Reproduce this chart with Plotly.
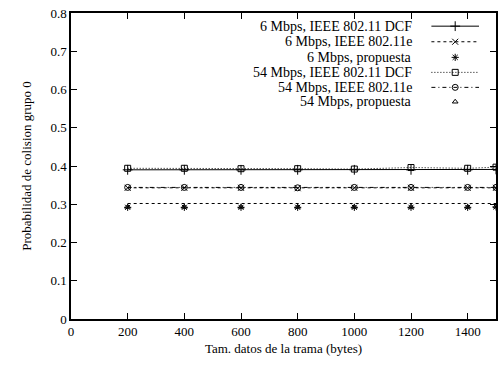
import plotly.graph_objects as go

x_bytes = [200, 400, 600, 800, 1000, 1200, 1400, 1500]
dcf_6 = [0.390, 0.390, 0.390, 0.390, 0.390, 0.390, 0.390, 0.391]
e_6 = [0.343, 0.343, 0.343, 0.342, 0.343, 0.343, 0.343, 0.343]
prop_6 = [0.292, 0.292, 0.292, 0.292, 0.292, 0.292, 0.292, 0.293]
dcf_54 = [0.394, 0.394, 0.393, 0.393, 0.392, 0.396, 0.394, 0.397]
e_54 = [0.344, 0.344, 0.344, 0.343, 0.344, 0.344, 0.344, 0.344]
prop_54 = [0.293, 0.293, 0.293, 0.293, 0.293, 0.293, 0.293, 0.294]
prop_line = [0.302, 0.302, 0.302, 0.302, 0.302, 0.302, 0.302, 0.302]

names = ["6 Mbps, IEEE 802.11 DCF", "6 Mbps, IEEE 802.11e", "6 Mbps, propuesta",
         "54 Mbps, IEEE 802.11 DCF", "54 Mbps, IEEE 802.11e", "54 Mbps, propuesta"]
x_ticks = [0, 200, 400, 600, 800, 1000, 1200, 1400]
y_ticks = [0, 0.1, 0.2, 0.3, 0.4, 0.5, 0.6, 0.7, 0.8]

FONT = "Liberation Serif"
K = "black"

styles = [
    dict(mode="lines+markers", dash="solid", symbol="cross-thin-open", size=7),
    dict(mode="lines+markers", dash="3px,3px", symbol="x-thin-open", size=6),
    dict(mode="markers", dash="solid", symbol="asterisk-open", size=6),
    dict(mode="lines+markers", dash="1px,2px", symbol="square-open", size=6),
    dict(mode="lines+markers", dash="4px,3px,1px,3px", symbol="circle-open", size=6),
    dict(mode="markers", dash="solid", symbol="triangle-up-open", size=5),
]
series = [dcf_6, e_6, prop_6, dcf_54, e_54, prop_54]

fig = go.Figure()
fig.add_trace(go.Scatter(x=x_bytes, y=prop_line, mode="lines", showlegend=False,
                         line=dict(color=K, width=1, dash="3px,3px"), cliponaxis=False))
for ys, st, nm in zip(series, styles, names):
    fig.add_trace(go.Scatter(
        x=x_bytes, y=ys, mode=st["mode"], name=nm, showlegend=False, cliponaxis=False,
        line=dict(color=K, width=1, dash=st["dash"]),
        marker=dict(symbol=st["symbol"], size=st["size"], color=K,
                    line=dict(color=K, width=1))))

# custom legend (text right-aligned, key on the right, gnuplot style)
row_y = [0.957, 0.906, 0.855, 0.806, 0.757, 0.710]
for st, nm, ry in zip(styles, names, row_y):
    if st["mode"] != "markers":
        fig.add_trace(go.Scatter(x=[0.848, 0.960], y=[ry, ry], mode="lines", xaxis="x2", yaxis="y2",
                                 showlegend=False, hoverinfo="skip",
                                 line=dict(color=K, width=1, dash=st["dash"])))
    fig.add_trace(go.Scatter(x=[0.904], y=[ry], mode="markers", xaxis="x2", yaxis="y2",
                             showlegend=False, hoverinfo="skip",
                             marker=dict(symbol=st["symbol"], size=st["size"], color=K,
                                         line=dict(color=K, width=1))))
    fig.add_annotation(x=0.806, y=ry, xref="x2", yref="y2", text=nm, showarrow=False,
                       xanchor="right", yanchor="middle",
                       font=dict(family=FONT, size=14, color=K))

axis_common = dict(showgrid=False, zeroline=False, showline=True, linecolor=K, linewidth=1.5,
                   mirror="ticks", ticks="inside", ticklen=6, tickwidth=1, tickcolor=K,
                   tickfont=dict(family=FONT, size=13, color=K))

fig.update_layout(
    width=498, height=366,
    margin=dict(l=71, r=0, t=13, b=47),
    plot_bgcolor="white", paper_bgcolor="white",
    showlegend=False,
    xaxis=dict(range=[0, 1500], tickvals=x_ticks, ticktext=[str(v) for v in x_ticks],
               title=dict(text="Tam. datos de la trama (bytes)",
                          font=dict(family=FONT, size=13, color=K), standoff=6),
               **axis_common),
    yaxis=dict(range=[0, 0.8], tickvals=y_ticks, ticktext=[("0" if v == 0 else f"{v:.1f}") for v in y_ticks],
               title=dict(text="Probabilidad de colision grupo 0",
                          font=dict(family=FONT, size=13, color=K), standoff=16),
               **axis_common),
    xaxis2=dict(range=[0, 1], domain=[0, 1], visible=False, overlaying="x", anchor="y2"),
    yaxis2=dict(range=[0, 1], domain=[0, 1], visible=False, overlaying="y", anchor="x2"),
)

fig.write_html("out.html")
